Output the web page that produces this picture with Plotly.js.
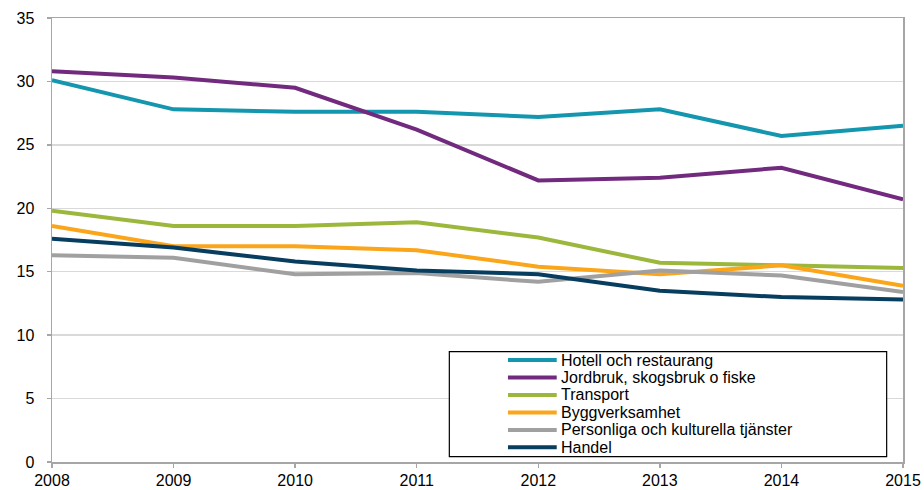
<!DOCTYPE html>
<html>
<head>
<meta charset="utf-8">
<script src="https://cdn.plot.ly/plotly-3.0.1.min.js"></script>
<style>html,body{margin:0;padding:0;background:#fff}#chart{width:924px;height:490px}</style>
</head>
<body>
<div id="chart"></div>
<script>
const years = [2008, 2009, 2010, 2011, 2012, 2013, 2014, 2015];
const seriesNames = ["Hotell och restaurang", "Jordbruk, skogsbruk o fiske", "Transport", "Byggverksamhet", "Personliga och kulturella tjänster", "Handel"];
const hotell = [30.1, 27.8, 27.6, 27.6, 27.2, 27.8, 25.7, 26.5];
const jordbruk = [30.8, 30.3, 29.5, 26.2, 22.2, 22.4, 23.2, 20.7];
const transport = [19.8, 18.6, 18.6, 18.9, 17.7, 15.7, 15.5, 15.3];
const bygg = [18.6, 17.0, 17.0, 16.7, 15.4, 14.8, 15.5, 13.9];
const personliga = [16.3, 16.1, 14.8, 14.9, 14.2, 15.1, 14.7, 13.4];
const handel = [17.6, 16.9, 15.8, 15.1, 14.8, 13.5, 13.0, 12.8];
const seriesValues = [hotell, jordbruk, transport, bygg, personliga, handel];
const colors = ["#1496AF", "#722A7E", "#9BB83D", "#FBA51A", "#A0A0A0", "#073D5F"];
const yTicks = [0, 5, 10, 15, 20, 25, 30, 35];

const font = "'Liberation Sans', Arial, sans-serif";

const traces = seriesNames.map((n, i) => ({
  x: years, y: seriesValues[i], name: n, type: 'scatter', mode: 'lines',
  line: {color: colors[i], width: 4}, showlegend: false
}));

// legend drawn inside the plot (box, sample lines, labels)
const shapes = [{type: 'rect', xref: 'paper', yref: 'paper', x0: 0.4669, x1: 0.9808, y0: 0.0119, y1: 0.2484,
  line: {color: '#000', width: 1.2}, fillcolor: '#fff', layer: 'above'}];
const annotations = [];
seriesNames.forEach((n, i) => {
  const yc = 0.2297 - i * 0.03935;
  shapes.push({type: 'line', xref: 'paper', yref: 'paper', x0: 0.5358, x1: 0.5931, y0: yc, y1: yc,
    line: {color: colors[i], width: 4}, layer: 'above'});
  annotations.push({xref: 'paper', yref: 'paper', x: 0.5955, y: yc, xanchor: 'left', yanchor: 'middle',
    text: n, showarrow: false, font: {family: font, size: 16, color: '#000'}});
});

const layout = {
  width: 924, height: 490,
  margin: {l: 52, r: 21, t: 18, b: 28},
  paper_bgcolor: '#fff', plot_bgcolor: '#fff',
  font: {family: font, size: 16, color: '#000'},
  xaxis: {range: [2008, 2015], tickvals: years, ticktext: years.map(String), showgrid: false, zeroline: false,
    showline: true, linecolor: '#A6A6A6', linewidth: 1.5, mirror: true,
    ticks: 'outside', ticklen: 4, tickcolor: '#A6A6A6', tickwidth: 1.5, ticklabelstandoff: -1,
    tickfont: {family: font, size: 16, color: '#000'}},
  yaxis: {range: [0, 35], tickvals: yTicks, showgrid: true, gridcolor: '#D9D9D9', gridwidth: 1.3, zeroline: false,
    showline: true, linecolor: '#A6A6A6', linewidth: 1.5, mirror: true,
    ticks: 'outside', ticklen: 4, tickcolor: '#A6A6A6', tickwidth: 1.5, ticklabelstandoff: 9,
    tickfont: {family: font, size: 16, color: '#000'}},
  shapes: shapes, annotations: annotations, showlegend: false
};

Plotly.newPlot('chart', traces, layout, {displayModeBar: false, staticPlot: true});
</script>
</body>
</html>
